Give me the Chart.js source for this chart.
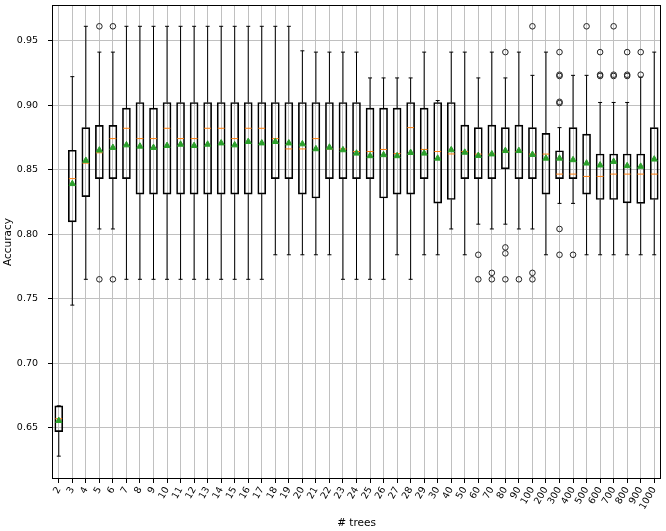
<!DOCTYPE html>
<html>
<head>
<meta charset="utf-8">
<script src="https://cdn.jsdelivr.net/npm/chart.js@4.4.1/dist/chart.umd.min.js"></script>
<style>
html,body{margin:0;padding:0;background:#fff;}
</style>
</head>
<body>
<canvas id="c" width="666" height="531"></canvas>
<script>
const categories = ['2','3','4','5','6','7','8','9','10','11','12','13','14','15','16','17','18','19','20','21','22','23','24','25','26','27','28','29','30','40','50','60','70','80','90','100','200','300','400','500','600','700','800','900','1000'];

const whiskerLow = [0.628,0.745,0.765,0.804,0.804,0.765,0.765,0.765,0.765,0.765,0.765,0.765,0.765,0.765,0.765,0.765,0.784,0.784,0.784,0.784,0.784,0.765,0.765,0.765,0.765,0.784,0.765,0.784,0.784,0.804,0.784,0.8077,0.804,0.8077,0.804,0.804,0.784,0.8238,0.8238,0.784,0.784,0.784,0.784,0.784,0.784];
const q1 = [0.647,0.8095,0.829,0.843,0.843,0.843,0.831,0.831,0.831,0.831,0.831,0.831,0.831,0.831,0.831,0.831,0.843,0.843,0.831,0.828,0.843,0.843,0.843,0.843,0.828,0.831,0.831,0.843,0.824,0.8268,0.843,0.843,0.843,0.8506,0.843,0.843,0.831,0.843,0.843,0.831,0.8268,0.8268,0.8242,0.8238,0.8268];
const medians = [0.657,0.843,0.855,0.863,0.874,0.882,0.874,0.874,0.882,0.874,0.874,0.882,0.882,0.874,0.882,0.882,0.874,0.866,0.866,0.874,0.866,0.866,0.864,0.864,0.8656,0.8624,0.8825,0.8656,0.864,0.8621,0.864,0.862,0.862,0.864,0.864,0.862,0.862,0.8465,0.8465,0.8447,0.8447,0.8465,0.8465,0.8465,0.8465];
const q3 = [0.667,0.865,0.8825,0.8843,0.8843,0.8976,0.902,0.8976,0.902,0.902,0.902,0.902,0.902,0.902,0.902,0.902,0.902,0.902,0.902,0.902,0.902,0.902,0.902,0.8976,0.8976,0.8976,0.902,0.8976,0.902,0.902,0.8844,0.8825,0.8844,0.8825,0.8844,0.8825,0.878,0.8646,0.8825,0.8775,0.8621,0.8621,0.8621,0.8621,0.8825];
const whiskerHigh = [0.667,0.922,0.961,0.941,0.941,0.961,0.961,0.961,0.961,0.961,0.961,0.961,0.961,0.961,0.961,0.961,0.961,0.961,0.942,0.941,0.941,0.941,0.941,0.921,0.921,0.921,0.921,0.941,0.9035,0.941,0.941,0.921,0.941,0.921,0.941,0.923,0.941,0.8825,0.923,0.923,0.902,0.902,0.902,0.9216,0.941];
const means = [0.6555,0.839,0.857,0.865,0.867,0.869,0.868,0.867,0.8685,0.8695,0.8685,0.8695,0.8705,0.869,0.8716,0.8705,0.8716,0.8705,0.8698,0.866,0.8672,0.8652,0.8626,0.8606,0.8614,0.8606,0.8631,0.8626,0.8587,0.8652,0.8633,0.8608,0.862,0.8646,0.8646,0.8616,0.8587,0.8587,0.8575,0.8549,0.8534,0.8562,0.8529,0.8524,0.858];
const outliers = [[],[],[],[0.961,0.765],[0.961,0.765],[],[],[],[],[],[],[],[],[],[],[],[],[],[],[],[],[],[],[],[],[],[],[],[],[],[],[0.784,0.765],[0.770,0.765],[0.941,0.7897,0.7851,0.765],[0.765],[0.961,0.770,0.765],[],[0.941,0.9225,0.9235,0.9015,0.9025,0.804,0.784],[0.784],[0.961],[0.941,0.9225,0.9235],[0.961,0.9225,0.9235],[0.941,0.9225,0.9235],[0.941,0.9235],[]];

const yTicks = [0.65,0.70,0.75,0.80,0.85,0.90,0.95];
const yMin = 0.6103, yMax = 0.9775;

const whiskerData = [];
const capData = [];
const medianData = [];
const meanData = [];
const outlierData = [];
categories.forEach((c, i) => {
  whiskerData.push({x:c,y:whiskerLow[i]},{x:c,y:q1[i]},{x:c,y:null},{x:c,y:q3[i]},{x:c,y:whiskerHigh[i]},{x:c,y:null});
  capData.push({x:c,y:whiskerLow[i]},{x:c,y:whiskerHigh[i]});
  medianData.push({x:c,y:medians[i]});
  meanData.push({x:c,y:means[i]});
  outliers[i].forEach(v => outlierData.push({x:c,y:v}));
});

const FONT = "'DejaVu Sans', sans-serif";

const framePlugin = {
  id: 'frame',
  afterDatasetsDraw(chart) {
    const {ctx, chartArea: a} = chart;
    ctx.save();
    ctx.strokeStyle = '#000';
    ctx.lineWidth = 1;
    ctx.strokeRect(Math.round(a.left) + 0.5, Math.round(a.top) + 0.5, Math.round(a.right - a.left) - 1, Math.round(a.bottom - a.top) - 1);
    ctx.restore();
  }
};

new Chart(document.getElementById('c'), {
  type: 'bar',
  data: {
    labels: categories,
    datasets: [
      { type: 'line', data: outlierData, showLine: false, pointStyle: 'circle', pointRadius: 2.8,
        pointBackgroundColor: 'rgba(0,0,0,0)', pointBorderColor: '#222', pointBorderWidth: 1, order: 1 },
      { type: 'line', data: meanData, showLine: false, pointStyle: 'triangle', pointRadius: 3.6,
        pointBackgroundColor: '#2ca02c', pointBorderColor: '#2ca02c', pointBorderWidth: 1, order: 2 },
      { type: 'line', data: medianData, showLine: false, pointStyle: 'line', pointRadius: 3.4,
        pointBorderColor: '#ff7f0e', pointBorderWidth: 1, order: 3 },
      { type: 'bar', data: categories.map((c, i) => [q1[i], q3[i]]), backgroundColor: 'rgba(0,0,0,0)',
        borderColor: '#000', borderWidth: 1, borderSkipped: false, barThickness: 8, grouped: false, order: 4 },
      { type: 'line', data: capData, showLine: false, pointStyle: 'line', pointRadius: 2,
        pointBorderColor: '#000', pointBorderWidth: 1, order: 5 },
      { type: 'line', data: whiskerData, borderColor: '#000', borderWidth: 1, pointRadius: 0,
        spanGaps: false, tension: 0, fill: false, order: 6 }
    ]
  },
  options: {
    responsive: false,
    animation: false,
    devicePixelRatio: 1,
    layout: { padding: { left: 0, right: 2, top: 2, bottom: 0 } },
    plugins: { legend: { display: false }, tooltip: { enabled: false } },
    scales: {
      x: {
        type: 'category',
        offset: true,
        grid: { display: true, offset: false, color: '#c0c0c0', lineWidth: 1, drawTicks: true, tickLength: 4, tickColor: '#000' },
        border: { display: false },
        ticks: { autoSkip: false, minRotation: 60, maxRotation: 60, color: '#000', padding: 2,
                 font: { family: FONT, size: 9.5 } },
        title: { display: true, text: '# trees', color: '#000', font: { family: FONT, size: 10.5 }, padding: { top: 0, bottom: 1 } },
        afterFit(scale) { scale.height = 52; scale.paddingLeft = 0; scale.paddingRight = 0; }
      },
      y: {
        type: 'linear',
        min: yMin,
        max: yMax,
        afterBuildTicks(scale) { scale.ticks = yTicks.map(v => ({ value: v })); },
        grid: { color: '#c0c0c0', lineWidth: 1, drawTicks: true, tickLength: 4, tickColor: '#000' },
        border: { display: false },
        ticks: { color: '#000', padding: 10, font: { family: FONT, size: 9.5 },
                 callback: v => Number(v).toFixed(2) },
        title: { display: true, text: 'Accuracy', color: '#000', font: { family: FONT, size: 10.5 }, padding: { top: 2, bottom: 0 } },
        afterFit(scale) { scale.width = 52; scale.paddingTop = 0; scale.paddingBottom = 0; }
      }
    }
  },
  plugins: [framePlugin]
});
</script>
</body>
</html>
